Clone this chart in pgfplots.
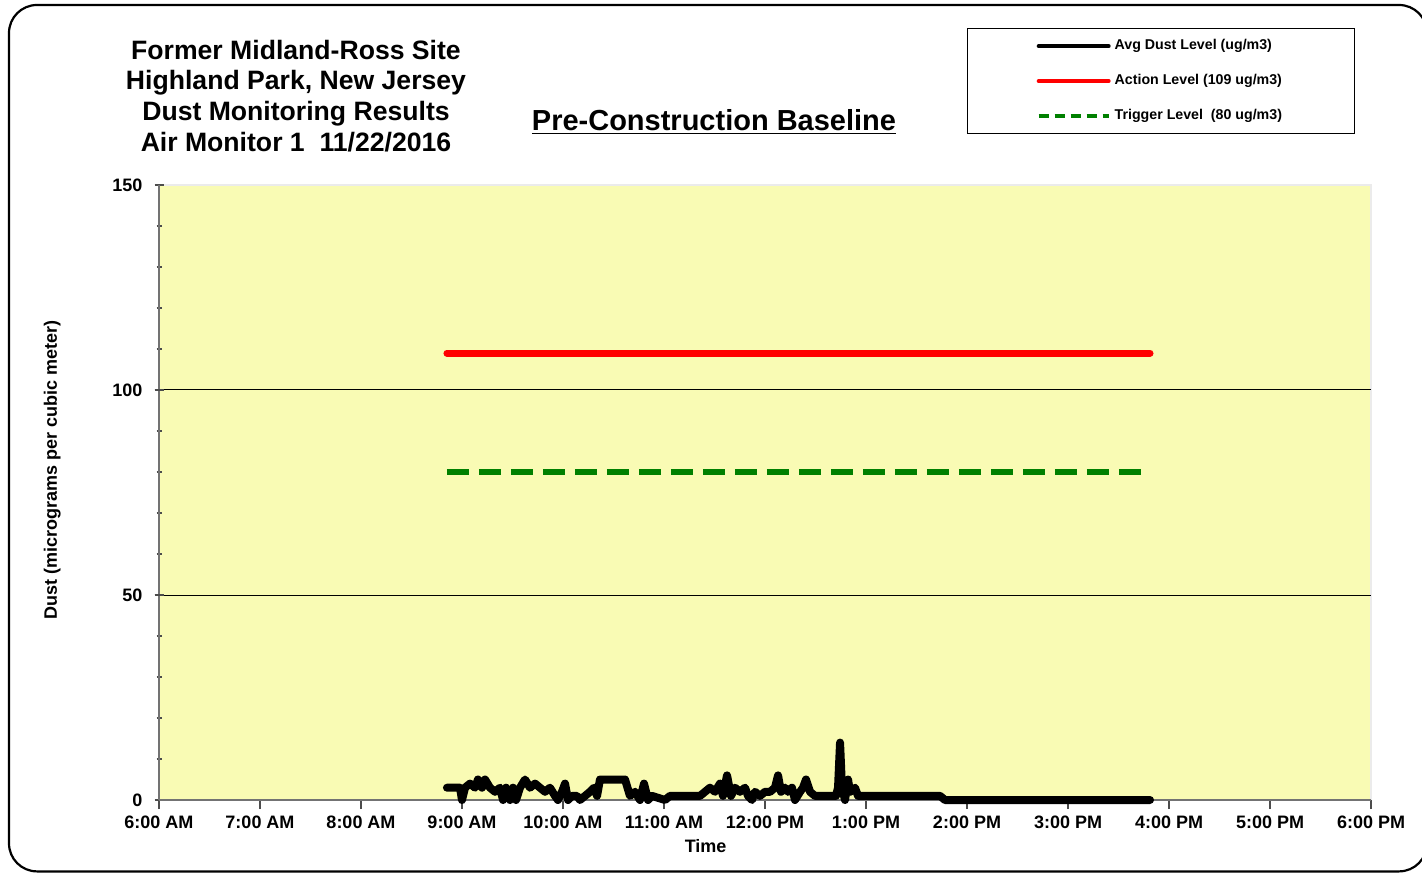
\documentclass[border=0pt]{standalone}
\usepackage{fontspec}
\setmainfont{Liberation Sans}
\usepackage{pgfplots}
\pgfplotsset{compat=1.18}
\definecolor{plotbg}{RGB}{249,251,180}
\definecolor{trig}{RGB}{0,128,0}
\definecolor{act}{RGB}{255,0,0}
\pgfplotstableread{
t v
8.851 3
8.931 3
8.980 3
9.000 0
9.030 3
9.079 4
9.129 3
9.158 5
9.198 3
9.228 5
9.277 3
9.327 2
9.376 3
9.406 0
9.436 3
9.475 0
9.505 3
9.535 0
9.574 3
9.624 5
9.673 3
9.723 4
9.772 3
9.822 2
9.871 3
9.921 1
9.950 0
9.990 2
10.020 4
10.050 0
10.089 1
10.139 1
10.168 0
10.218 1
10.267 2
10.307 3
10.337 1
10.366 5
10.614 5
10.663 1
10.713 2
10.762 0
10.802 4
10.842 0
10.881 1
11.010 0
11.059 1
11.356 1
11.406 2
11.455 3
11.505 2
11.554 4
11.584 1
11.624 6
11.663 1
11.703 3
11.752 2
11.802 3
11.832 1
11.871 0
11.901 2
11.950 1
12.000 2
12.050 2
12.099 3
12.129 6
12.158 2
12.198 3
12.228 2
12.267 3
12.297 0
12.347 2
12.376 3
12.406 5
12.446 2
12.495 1
12.703 1
12.723 3
12.743 14
12.762 3
12.792 0
12.822 5
12.842 2
12.891 3
12.921 1
12.960 1
13.733 1
13.782 0
15.812 0
}\dusttable
\begin{document}
\begin{tikzpicture}[x=1pt,y=1pt]
\useasboundingbox (0,0) rectangle (711,436);
\begin{scope}
\clip (0,0) rectangle (711,436);
\draw[line width=1.1pt, rounded corners=14pt] (4.5,433.5) rectangle (713.5,0.3);
\end{scope}
\node[font=\bfseries\fontsize{13.3}{15.35}\selectfont, align=center] at (148,388.1)
  {Former Midland-Ross Site\\Highland Park, New Jersey\\Dust Monitoring Results\\Air Monitor 1\ \ 11/22/2016};
\node[font=\bfseries\fontsize{14.5}{16}\selectfont] at (357,375) {\underline{Pre-Construction Baseline}};
\begin{axis}[
  at={(79.5pt,36pt)}, anchor=south west, scale only axis,
  width=606pt, height=307.5pt,
  xmin=6, xmax=18, ymin=0, ymax=150,
  clip=false,
  axis background/.style={fill=plotbg, draw=black!8, line width=1pt},
  axis lines=left,
  axis line style={-, draw=black!55, line width=1pt},
  xtick={6,7,...,18},
  xticklabels={6:00 AM,7:00 AM,8:00 AM,9:00 AM,10:00 AM,11:00 AM,12:00 PM,1:00 PM,2:00 PM,3:00 PM,4:00 PM,5:00 PM,6:00 PM},
  ytick={0,50,100,150},
  minor ytick={10,20,30,40,60,70,80,90,110,120,130,140},
  extra y ticks={50,100},
  extra y tick labels={},
  extra y tick style={grid=major},
  grid style={black, line width=0.5pt},
  tick style={black!70, line width=0.7pt},
  xtick align=outside,
  ytick align=center,
  major tick length=4.5pt,
  minor tick length=2.5pt,
  tick label style={font=\bfseries\fontsize{9}{10}\selectfont},
  yticklabel style={xshift=-2.5pt},
  /pgf/number format/assume math mode=true,
  xlabel={Time},
  ylabel={Dust (micrograms per cubic meter)},
  label style={font=\bfseries\fontsize{9}{10}\selectfont},
  xlabel style={at={(axis description cs:0.451,-0.0748)}, anchor=center},
  ylabel style={at={(axis description cs:-0.0880,0.536)}, anchor=center},
  legend style={at={(axis description cs:0.827,1.169)}, anchor=center,
    draw=black, line width=0.5pt, fill=white,
    font=\bfseries\fontsize{7.1}{8}\selectfont,
    inner xsep=34.5pt, inner ysep=3.6pt, row sep=6.8pt},
  legend cell align=left,
]
\addplot[black, line width=4pt, line join=round, line cap=round,
  legend image code/.code={\draw[black, line width=2pt] (0pt,0pt) -- (35pt,0pt);}]
  table[x=t, y=v] {\dusttable};
\addlegendentry{Avg Dust Level (ug/m3)}
\addplot[act, line width=3.5pt, line cap=round,
  legend image code/.code={\draw[act, line width=2pt] (0pt,0pt) -- (35pt,0pt);}]
  coordinates {(8.851,109) (15.812,109)};
\addlegendentry{Action Level (109 ug/m3)}
\addplot[trig, line width=3pt, dash pattern=on 11pt off 5pt,
  legend image code/.code={\draw[trig, line width=2pt, dash pattern=on 5pt off 3pt] (0pt,0pt) -- (35pt,0pt);}]
  coordinates {(8.851,80) (15.812,80)};
\addlegendentry{Trigger Level\ \ (80 ug/m3)}
\end{axis}
\end{tikzpicture}
\end{document}
